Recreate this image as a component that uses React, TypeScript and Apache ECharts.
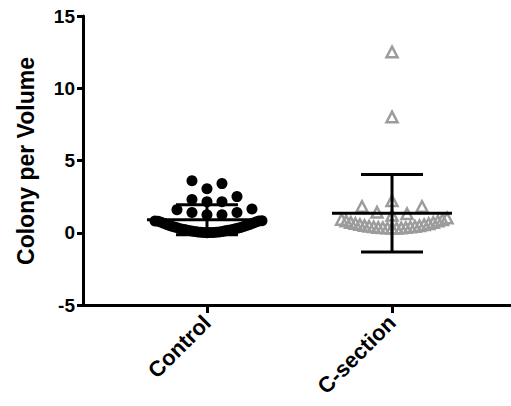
import React, { useEffect, useRef } from "react";
import * as echarts from "echarts";

const categories = ["Control", "C-section"];
const yAxisTitle = "Colony per Volume";

const controlValues = [
  0.0, 0.01, 0.01, 0.02, 0.03, 0.04, 0.05, 0.06, 0.08, 0.09, 0.12, 0.13,
  0.16, 0.17, 0.2, 0.21, 0.25, 0.26, 0.3, 0.31, 0.36, 0.37, 0.42, 0.44,
  0.49, 0.5, 0.56, 0.58, 0.64, 0.65, 0.72, 0.74, 0.8, 0.81, 0.82, 0.83,
  1.25, 1.25, 1.4, 1.4, 1.6, 1.65, 2.15, 2.15, 2.3, 2.5, 3.05, 3.4, 3.6,
];

const csectionValues = [
  0.3, 0.3, 0.31, 0.32, 0.33, 0.34, 0.35, 0.38, 0.39, 0.42, 0.43, 0.47,
  0.48, 0.54, 0.55, 0.61, 0.62, 0.69, 0.7, 0.79, 0.8, 0.89, 0.9, 1.0,
  1.2, 1.3, 1.4, 1.8, 1.8, 2.2, 8.0, 12.5,
];

const groupMeans = [0.9, 1.35];
const groupSDs = [1.04, 2.68];
const yTicks = [-5, 0, 5, 10, 15];

const FONT = "Liberation Sans, Arial, sans-serif";

// Prism-like horizontal spreading: values within one band (binUnits) are
// spread sideways, sorted so the lowest sits in the middle.
function spread(values: number[], cat: number, binUnits: number, stepPx: number, halfWidthPx: number): number[][] {
  const sorted = [...values].sort((a, b) => a - b);
  const bins: number[][] = [];
  let cur: number[] = [];
  let start = 0;
  for (const v of sorted) {
    if (cur.length && v - start > binUnits) {
      bins.push(cur);
      cur = [];
    }
    if (!cur.length) start = v;
    cur.push(v);
  }
  if (cur.length) bins.push(cur);
  const out: number[][] = [];
  for (const b of bins) {
    const maxSlot = Math.ceil((b.length - 1) / 2);
    const step = maxSlot ? Math.min(stepPx, halfWidthPx / maxSlot) : 0;
    b.forEach((v, i) => {
      const slot = i === 0 ? 0 : i % 2 === 1 ? (i + 1) / 2 : -i / 2;
      out.push([cat, v, slot * step]);
    });
  }
  return out;
}

export default function App() {
  const ref = useRef<HTMLDivElement>(null);
  useEffect(() => {
    document.body.style.margin = "0";
    if (!ref.current) return;
    const chart = echarts.init(ref.current, null, { renderer: "svg" });

    const stats = groupMeans.map((m, i) => [i + 1, m, groupSDs[i]]);

    chart.setOption({
      animation: false,
      grid: { left: 83, right: 0, top: 16, bottom: 101 },
      graphic: [
        {
          type: "text",
          x: 26,
          y: 161,
          rotation: Math.PI / 2,
          style: {
            text: yAxisTitle,
            font: "bold 23px Liberation Sans, Arial, sans-serif",
            fill: "#000",
            textAlign: "center",
            textVerticalAlign: "middle",
          },
        },
      ],
      xAxis: {
        type: "value",
        min: 0.33,
        max: 2.643,
        splitLine: { show: false },
        axisLine: { show: true, onZero: false, lineStyle: { color: "#000", width: 3 } },
        axisTick: { show: true, customValues: [1, 2], length: 8, lineStyle: { color: "#000", width: 3 } },
        axisLabel: {
          show: true,
          customValues: [1, 2],
          formatter: (v: number) => categories[Math.round(v) - 1] ?? "",
          rotate: 45,
          margin: 14,
          color: "#000",
          fontSize: 22,
          fontWeight: "bold",
          fontFamily: FONT,
        },
      },
      yAxis: {
        type: "value",
        min: yTicks[0],
        max: yTicks[yTicks.length - 1],
        interval: 5,
        splitLine: { show: false },
        axisLine: { show: true, onZero: false, lineStyle: { color: "#000", width: 3 } },
        axisTick: { show: true, length: 6, lineStyle: { color: "#000", width: 3 } },
        axisLabel: { color: "#000", fontSize: 19, fontWeight: "bold", fontFamily: FONT },
      },
      series: [
        {
          type: "custom",
          name: categories[0],
          z: 2,
          data: spread(controlValues, 1, 0.865, 15, 55),
          renderItem: (params: any, api: any) => {
            const p = api.coord([api.value(0), api.value(1)]);
            return {
              type: "circle",
              shape: { cx: p[0] + api.value(2), cy: p[1], r: 5.5 },
              style: { fill: "#000" },
            };
          },
        },
        {
          type: "custom",
          name: categories[1],
          z: 2,
          data: spread(csectionValues, 2, 0.865, 15, 55),
          renderItem: (params: any, api: any) => {
            const p = api.coord([api.value(0), api.value(1)]);
            const cx = p[0] + api.value(2);
            const cy = p[1];
            return {
              type: "polygon",
              shape: { points: [[cx, cy - 5.5], [cx + 5.5, cy + 5], [cx - 5.5, cy + 5]] },
              style: { fill: "none", stroke: "#9c9c9c", lineWidth: 2.5 },
            };
          },
        },
        {
          type: "custom",
          z: 10,
          data: stats,
          renderItem: (params: any, api: any) => {
            const c = api.value(0);
            const m = api.value(1);
            const s = api.value(2);
            const pm = api.coord([c, m]);
            const pt = api.coord([c, m + s]);
            const pb = api.coord([c, m - s]);
            const style = { stroke: "#000", lineWidth: 3, fill: "none" };
            const hw = 60;
            const cw = 31;
            return {
              type: "group",
              children: [
                { type: "line", shape: { x1: pm[0] - hw, y1: pm[1], x2: pm[0] + hw, y2: pm[1] }, style },
                { type: "line", shape: { x1: pt[0], y1: pt[1], x2: pb[0], y2: pb[1] }, style },
                { type: "line", shape: { x1: pt[0] - cw, y1: pt[1], x2: pt[0] + cw, y2: pt[1] }, style },
                { type: "line", shape: { x1: pb[0] - cw, y1: pb[1], x2: pb[0] + cw, y2: pb[1] }, style },
              ],
            };
          },
        },
      ],
    });
    return () => chart.dispose();
  }, []);
  return <div ref={ref} style={{ width: 511, height: 406 }} />;
}
